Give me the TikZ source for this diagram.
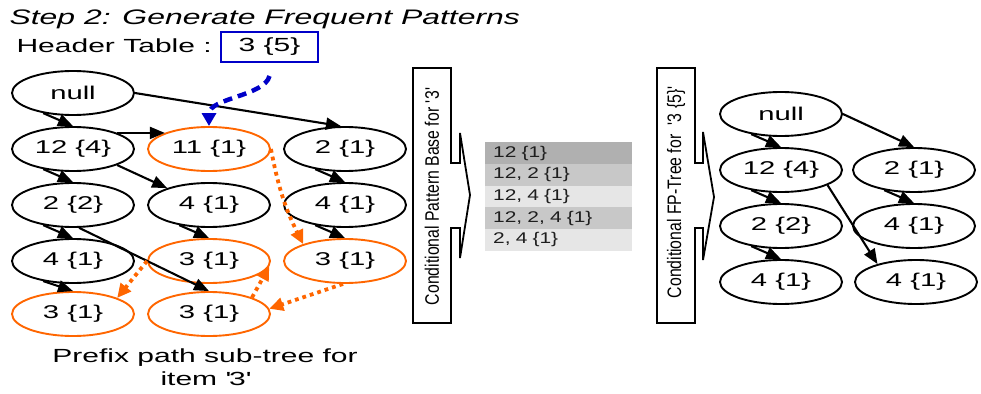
\documentclass[tikz,border=0pt]{standalone}
\usepackage{fontspec}
\setmainfont{Liberation Sans}
\newfontfamily\widefont[FakeStretch=1.58]{Liberation Sans}
\newfontfamily\titlefont[FakeStretch=1.52]{Liberation Sans}
\newfontfamily\tablefont[FakeStretch=1.35]{Liberation Sans}
\newfontfamily\narrowfont[FakeStretch=0.81]{Liberation Sans}
\usetikzlibrary{shapes.geometric,arrows.meta}

\definecolor{fporange}{RGB}{255,102,0}
\definecolor{fpblue}{RGB}{0,0,200}
\definecolor{rowdark}{RGB}{176,176,176}
\definecolor{rowmid}{RGB}{200,200,200}
\definecolor{rowlight}{RGB}{230,230,230}
\definecolor{rowtext}{RGB}{30,30,30}

\begin{document}
\begin{tikzpicture}[x=1pt,y=-1pt,
  tnode/.style={ellipse, draw=black, line width=1.9pt, minimum width=122pt,
    minimum height=44pt, inner sep=0pt,
    font=\widefont\fontsize{18.5}{20}\selectfont},
  onode/.style={tnode, draw=fporange},
  treeedge/.style={line width=2.1pt, -{Triangle[length=15pt,width=12pt]}},
  nodelink/.style={draw=fporange, line width=3.8pt, dash pattern=on 3.8pt off 4pt,
    -{Triangle[length=14pt,width=13pt,fill=fporange]}},
  headerlink/.style={draw=fpblue, line width=4.5pt, dash pattern=on 9pt off 6pt,
    -{Triangle[length=13pt,width=14pt,fill=fpblue]}},
  callout/.style={draw=black, line width=1.8pt, line join=miter},
  rowcell/.style={anchor=north west, minimum width=147pt, minimum height=21.7pt,
    text width=131pt, inner xsep=8pt, inner ysep=0pt, align=left,
    text=rowtext, font=\tablefont\fontsize{15.5}{16}\selectfont},
  bigtext/.style={font=\widefont\fontsize{19}{22.5}\selectfont},
  sidetext/.style={rotate=90, font=\narrowfont\fontsize{19.5}{20}\selectfont}
]
\useasboundingbox (0,0) rectangle (981,393);

% title and header table
\node[anchor=base west, font=\titlefont\itshape\fontsize{21}{24}\selectfont]
  (title) at (6,25) {Step 2: Generate Frequent Patterns};
\node[anchor=base west, bigtext] (htlabel) at (13,53) {Header Table :};
\node[draw=fpblue, line width=2pt, minimum width=97pt, minimum height=30pt,
  inner sep=0pt, bigtext] (hdr) at (269.5,47) {3 \{5\}};
\coordinate (hdrs) at ([yshift=-13pt]hdr.south);

% prefix path sub-tree
\node[tnode] (lnull) at (73,93)  {null};
\node[tnode] (l12)   at (73,149) {12 \{4\}};
\node[onode] (l11)   at (209,149) {11 \{1\}};
\node[tnode] (l2a)   at (345,149) {2 \{1\}};
\node[tnode] (l2b)   at (73,205) {2 \{2\}};
\node[tnode] (l4a)   at (209,205) {4 \{1\}};
\node[tnode] (l4b)   at (345,205) {4 \{1\}};
\node[tnode] (l4c)   at (73,261) {4 \{1\}};
\node[onode] (l3a)   at (209,261) {3 \{1\}};
\node[onode] (l3b)   at (345,261) {3 \{1\}};
\node[onode] (l3c)   at (73,314) {3 \{1\}};
\node[onode] (l3d)   at (209,314) {3 \{1\}};

\draw[treeedge] (lnull.214) -- (l12.north);
\draw[treeedge] (lnull.east) -- (l2a.100);
\draw[treeedge] (l12.20) -- (l11.160);
\draw[treeedge] (l12.214) -- (l2b.north);
\draw[treeedge] (l12.340) -- (l4a.158);
\draw[treeedge] (l2a.214) -- (l4b.north);
\draw[treeedge] (l2b.214) -- (l4c.north);
\draw[treeedge] (l2b.285) -- (l3d.north);
\draw[treeedge] (l4a.214) -- (l3a.north);
\draw[treeedge] (l4b.214) -- (l3b.north);
\draw[treeedge] (l4c.214) -- (l3c.north);

% node-links for item 3
\draw[nodelink] (l11.east) to[bend right=8] (l3b.158);
\draw[nodelink] (l3b.265) -- (l3d.5);
\draw[nodelink] (l3d.21) -- (l3a.-5);
\draw[nodelink] (l3a.west) -- (l3c.20);

% header table pointer
\draw[headerlink] (hdrs) .. controls +(-5,20) and +(0,-28) .. (l11.north);

\node[align=center, bigtext] (caption) at (205,367) {Prefix path sub-tree for\\item \textquotesingle3\textquotesingle};

% conditional pattern base
\draw[callout] (413,68) -- (451,68) -- (451,163) -- (460,163) -- (460,133)
  -- (470,195) -- (460,258) -- (460,228) -- (451,228) -- (451,323)
  -- (413,323) -- cycle;
\node[sidetext] (cpbtext) at (432,196)
  {Conditional Pattern Base for \textquotesingle3\textquotesingle};

\node[rowcell, fill=rowdark]  (row1) at (485,142)   {12 \{1\}};
\node[rowcell, fill=rowmid]   (row2) at (485,163.7) {12, 2 \{1\}};
\node[rowcell, fill=rowlight] (row3) at (485,185.4) {12, 4 \{1\}};
\node[rowcell, fill=rowmid]   (row4) at (485,207.1) {12, 2, 4 \{1\}};
\node[rowcell, fill=rowlight] (row5) at (485,228.8) {2, 4 \{1\}};

% conditional FP-tree
\draw[callout] (657,68) -- (695,68) -- (695,163) -- (703,163) -- (703,132)
  -- (714,197) -- (703,260) -- (703,228) -- (695,228) -- (695,323)
  -- (657,323) -- cycle;
\node[sidetext] (cfptext) at (676,192)
  {Conditional FP-Tree for\ \ \textquotesingle3 \{5\}\textquotesingle};

\node[tnode] (rnull) at (781,114) {null};
\node[tnode] (r12)   at (781,170) {12 \{4\}};
\node[tnode] (r22)   at (781,226) {2 \{2\}};
\node[tnode] (r4a)   at (781,282) {4 \{1\}};
\node[tnode] (r21)   at (914,170) {2 \{1\}};
\node[tnode] (r4b)   at (914,226) {4 \{1\}};
\node[tnode] (r4c)   at (916,282) {4 \{1\}};

\draw[treeedge] (rnull.214) -- (r12.north);
\draw[treeedge] (rnull.east) -- (r21.north);
\draw[treeedge] (r12.214) -- (r22.north);
\draw[treeedge] (r12.342) -- (r4c.155);
\draw[treeedge] (r22.214) -- (r4a.north);
\draw[treeedge] (r21.214) -- (r4b.north);
\end{tikzpicture}
\end{document}
